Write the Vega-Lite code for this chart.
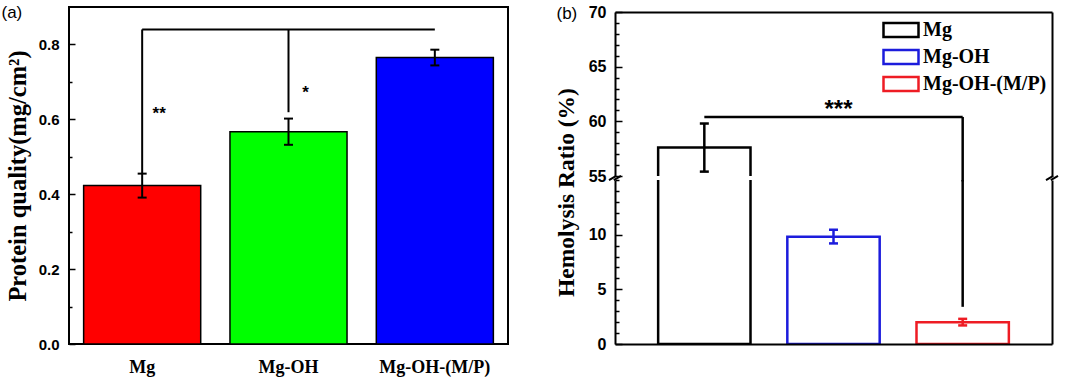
{
  "$schema": "https://vega.github.io/schema/vega-lite/v6.json",
  "background": "white",
  "padding": {"left": 0, "top": 2, "right": 0, "bottom": 0},
  "bounds": "flush",
  "spacing": 107,
  "config": {
    "view": {"stroke": null},
    "font": "Liberation Sans",
    "axis": {"labelColor": "black", "titleColor": "black", "tickColor": "black", "domainColor": "black", "grid": false}
  },
  "datasets": {
    "prot": [
      {"g": "Mg", "v": 0.423, "lo": 0.391, "hi": 0.455},
      {"g": "Mg-OH", "v": 0.567, "lo": 0.532, "hi": 0.602},
      {"g": "Mg-OH-(M/P)", "v": 0.765, "lo": 0.744, "hi": 0.786}
    ],
    "protBrV": [
      {"g": "Mg", "y1": 0.455, "y2": 0.84},
      {"g": "Mg-OH", "y1": 0.619, "y2": 0.84}
    ],
    "protBrH": [{"g1": "Mg", "g2": "Mg-OH-(M/P)", "y": 0.84}],
    "protStar": [
      {"g": "Mg", "y": 0.60, "t": "**"},
      {"g": "Mg-OH", "y": 0.658, "t": "*"}
    ],
    "hemo": [
      {"g": "Mg", "v": 57.6, "lo": 55.4, "hi": 59.8},
      {"g": "Mg-OH", "v": 9.8, "lo": 9.2, "hi": 10.45},
      {"g": "Mg-OH-(M/P)", "v": 2.0, "lo": 1.7, "hi": 2.3}
    ],
    "hemoBrH": [{"g1": "Mg", "g2": "Mg-OH-(M/P)", "y": 60.4}],
    "hemoBrVUp": [{"g": "Mg-OH-(M/P)", "y1": 54.5, "y2": 60.4}],
    "hemoBrVLow": [{"g": "Mg-OH-(M/P)", "y1": 3.4, "y2": 15}],
    "hemoStar": [{"g": "Mg-OH", "y": 60.4, "t": "***"}],
    "one": [{"k": 1}]
  },
  "resolve": {"scale": {"x": "independent", "y": "independent", "stroke": "independent", "color": "independent", "fill": "independent"}},
  "hconcat": [
    {
      "width": 439,
      "height": 337,
      "view": {"stroke": "black", "strokeWidth": 2},
      "layer": [
        {
          "data": {"name": "prot"},
          "mark": {"type": "bar", "stroke": "black", "strokeWidth": 1.5},
          "encoding": {
            "x": {"field": "g", "type": "nominal", "sort": null,
              "scale": {"domain": ["Mg", "Mg-OH", "Mg-OH-(M/P)"], "paddingInner": 0.2, "paddingOuter": 0.1},
              "axis": {"orient": "bottom", "ticks": false, "domain": false, "labelAngle": 0, "labelFont": "Liberation Serif", "labelFontWeight": "bold", "labelFontSize": 18, "labelPadding": 14,
                "title": "(a)", "titleX": -68, "titleY": -340, "titleAlign": "left", "titleBaseline": "top", "titleAngle": 0, "titleFont": "Liberation Sans", "titleFontWeight": "normal", "titleFontSize": 17}},
            "y": {"field": "v", "type": "quantitative",
              "scale": {"domain": [0, 0.9], "nice": false},
              "axis": {"values": [0, 0.1, 0.2, 0.3, 0.4, 0.5, 0.6, 0.7, 0.8], "format": ".1f",
                "labelExpr": "round(datum.value*10) % 2 === 0 ? datum.label : ''",
                "tickSize": {"condition": {"test": "round(datum.value*10) % 2 === 0", "value": -6}, "value": -3},
                "tickWidth": 1.5, "domain": false,
                "labelFont": "Liberation Sans", "labelFontWeight": "bold", "labelFontSize": 15, "labelPadding": 16,
                "title": "Protein quality(mg/cm²)", "titleFont": "Liberation Serif", "titleFontSize": 24.5, "titleFontWeight": "bold", "titlePadding": 8}},
            "fill": {"field": "g", "type": "nominal", "scale": {"domain": ["Mg", "Mg-OH", "Mg-OH-(M/P)"], "range": ["#ff0000", "#00ff00", "#0000ff"]}, "legend": null}
          }
        },
        {
          "data": {"name": "prot"},
          "mark": {"type": "rule", "color": "black", "strokeWidth": 2},
          "encoding": {
            "x": {"field": "g", "type": "nominal"},
            "y": {"field": "lo", "type": "quantitative"},
            "y2": {"field": "hi"}
          }
        },
        {
          "data": {"name": "prot"},
          "mark": {"type": "tick", "color": "black", "size": 9, "thickness": 2, "opacity": 1},
          "encoding": {
            "x": {"field": "g", "type": "nominal"},
            "y": {"field": "lo", "type": "quantitative"}
          }
        },
        {
          "data": {"name": "prot"},
          "mark": {"type": "tick", "color": "black", "size": 9, "thickness": 2, "opacity": 1},
          "encoding": {
            "x": {"field": "g", "type": "nominal"},
            "y": {"field": "hi", "type": "quantitative"}
          }
        },
        {
          "data": {"name": "protBrV"},
          "mark": {"type": "rule", "color": "black", "strokeWidth": 2},
          "encoding": {
            "x": {"field": "g", "type": "nominal"},
            "y": {"field": "y1", "type": "quantitative"},
            "y2": {"field": "y2"}
          }
        },
        {
          "data": {"name": "protBrH"},
          "mark": {"type": "rule", "color": "black", "strokeWidth": 2},
          "encoding": {
            "x": {"field": "g1", "type": "nominal"},
            "x2": {"field": "g2"},
            "y": {"field": "y", "type": "quantitative"}
          }
        },
        {
          "data": {"name": "protStar"},
          "mark": {"type": "text", "font": "Liberation Sans", "fontWeight": "bold", "fontSize": 17, "color": "black", "baseline": "alphabetic", "align": "center", "dx": 17},
          "encoding": {
            "x": {"field": "g", "type": "nominal"},
            "y": {"field": "y", "type": "quantitative"},
            "text": {"field": "t"}
          }
        }
      ]
    },
    {
      "bounds": "flush",
      "spacing": 4,
      "resolve": {"scale": {"x": "independent", "y": "independent", "stroke": "independent", "color": "independent"}, "legend": {"stroke": "independent", "color": "independent"}},
      "vconcat": [
        {
          "width": 437,
          "height": 1,
          "data": {"values": []},
          "mark": "point",
          "encoding": {}
        },
        {
          "width": 437,
          "height": 164,
          "resolve": {"axis": {"y": "independent"}},
          "layer": [
            {
              "data": {"name": "hemo"},
              "mark": {"type": "bar", "filled": false, "strokeWidth": 2.5, "clip": true},
              "encoding": {
                "x": {"field": "g", "type": "nominal",
                  "scale": {"domain": ["Mg", "Mg-OH", "Mg-OH-(M/P)"], "paddingInner": 0.285, "paddingOuter": 0.334},
                  "axis": {"orient": "top", "labels": false, "ticks": false, "domain": true, "domainWidth": 2, "zindex": 1,
                    "title": "(b)", "titleX": -59, "titleY": -7, "titleAlign": "left", "titleBaseline": "top", "titleAngle": 0, "titleFont": "Liberation Sans", "titleFontWeight": "normal", "titleFontSize": 17}},
                "y": {"field": "v", "type": "quantitative",
                  "scale": {"domain": [55, 70], "nice": false, "zero": false},
                  "axis": {"orient": "left", "values": [55, 56, 57, 58, 59, 60, 61, 62, 63, 64, 65, 66, 67, 68, 69, 70],
                    "labelExpr": "datum.value % 5 === 0 ? datum.label : ''",
                    "tickSize": {"condition": {"test": "datum.value % 5 === 0", "value": -7}, "value": -4},
                    "tickWidth": 1.5, "domain": true, "domainWidth": 2, "zindex": 1,
                    "labelFont": "Liberation Sans", "labelFontWeight": "bold", "labelFontSize": 16, "labelPadding": 16,
                    "title": null}},
                "color": {"field": "g", "type": "nominal",
                  "scale": {"domain": ["Mg", "Mg-OH", "Mg-OH-(M/P)"], "range": ["#000000", "#1c1cdc", "#ee1c24"]},
                  "legend": {"orient": "none", "legendX": 276, "legendY": 8, "title": null,
                    "symbolType": "M-2.5,-1H2.5V1H-2.5Z", "symbolSize": 196, "symbolStrokeWidth": 2.5, "symbolFillColor": "white",
                    "labelFont": "Liberation Serif", "labelFontSize": 20, "labelFontWeight": "bold", "labelColor": "black",
                    "labelOffset": 12, "rowPadding": 3, "padding": 0}}
              }
            },
            {
              "data": {"name": "hemo"},
              "mark": {"type": "rule", "strokeWidth": 2.5, "clip": true},
              "encoding": {
                "x": {"field": "g", "type": "nominal"},
                "y": {"field": "lo", "type": "quantitative",
                  "axis": {"orient": "right", "labels": false, "ticks": false, "domain": true, "domainWidth": 2, "title": null, "zindex": 1}},
                "y2": {"field": "hi"},
                "stroke": {"field": "g", "type": "nominal", "scale": {"domain": ["Mg", "Mg-OH", "Mg-OH-(M/P)"], "range": ["#000000", "#1c1cdc", "#ee1c24"]}, "legend": null}
              }
            },
            {
              "data": {"name": "hemo"},
              "mark": {"type": "rule", "strokeWidth": 2.5, "clip": true, "xOffset": -4.5, "x2Offset": 4.5},
              "encoding": {
                "x": {"field": "g", "type": "nominal"},
                "x2": {"field": "g"},
                "y": {"field": "lo", "type": "quantitative", "axis": null},
                "stroke": {"field": "g", "type": "nominal", "legend": null}
              }
            },
            {
              "data": {"name": "hemo"},
              "mark": {"type": "rule", "strokeWidth": 2.5, "clip": true, "xOffset": -4.5, "x2Offset": 4.5},
              "encoding": {
                "x": {"field": "g", "type": "nominal"},
                "x2": {"field": "g"},
                "y": {"field": "hi", "type": "quantitative", "axis": null},
                "stroke": {"field": "g", "type": "nominal", "legend": null}
              }
            },
            {
              "data": {"name": "hemoBrH"},
              "mark": {"type": "rule", "color": "black", "strokeWidth": 2.5},
              "encoding": {
                "x": {"field": "g1", "type": "nominal"},
                "x2": {"field": "g2"},
                "y": {"field": "y", "type": "quantitative", "axis": null}
              }
            },
            {
              "data": {"name": "hemoBrVUp"},
              "mark": {"type": "rule", "color": "black", "strokeWidth": 2.5},
              "encoding": {
                "x": {"field": "g", "type": "nominal"},
                "y": {"field": "y1", "type": "quantitative", "axis": null},
                "y2": {"field": "y2"}
              }
            },
            {
              "data": {"name": "hemoStar"},
              "mark": {"type": "text", "font": "Liberation Sans", "fontWeight": "bold", "fontSize": 24, "color": "black", "baseline": "alphabetic", "align": "center", "dx": 5},
              "encoding": {
                "x": {"field": "g", "type": "nominal"},
                "y": {"field": "y", "type": "quantitative", "axis": null},
                "text": {"field": "t"}
              }
            }
          ]
        },
        {
          "width": 437,
          "height": 164,
          "resolve": {"axis": {"y": "independent"}},
          "layer": [
            {
              "data": {"name": "hemo"},
              "mark": {"type": "bar", "filled": false, "strokeWidth": 2.5, "clip": true},
              "encoding": {
                "x": {"field": "g", "type": "nominal",
                  "scale": {"domain": ["Mg", "Mg-OH", "Mg-OH-(M/P)"], "paddingInner": 0.285, "paddingOuter": 0.334},
                  "axis": {"orient": "bottom", "title": null, "labels": false, "ticks": false, "domain": true, "domainWidth": 2, "zindex": 1}},
                "y": {"field": "v", "type": "quantitative",
                  "scale": {"domain": [0, 15], "nice": false},
                  "axis": {"orient": "left", "values": [0, 1, 2, 3, 4, 5, 6, 7, 8, 9, 10, 11, 12, 13, 14, 15],
                    "labelExpr": "datum.value % 5 === 0 && datum.value < 15 ? datum.label : ''",
                    "tickSize": {"condition": {"test": "datum.value % 5 === 0 && datum.value < 15", "value": -7}, "value": -4},
                    "tickWidth": 1.5, "domain": true, "domainWidth": 2, "zindex": 1,
                    "labelFont": "Liberation Sans", "labelFontWeight": "bold", "labelFontSize": 16, "labelPadding": 16,
                    "title": "Hemolysis Ratio (%)", "titleFont": "Liberation Serif", "titleFontSize": 23.5, "titleFontWeight": "bold", "titlePadding": 10, "titleY": 12}},
                "color": {"field": "g", "type": "nominal",
                  "scale": {"domain": ["Mg", "Mg-OH", "Mg-OH-(M/P)"], "range": ["#000000", "#1c1cdc", "#ee1c24"]},
                  "legend": null}
              }
            },
            {
              "data": {"name": "hemo"},
              "mark": {"type": "rule", "strokeWidth": 2.5, "clip": true},
              "encoding": {
                "x": {"field": "g", "type": "nominal"},
                "y": {"field": "lo", "type": "quantitative",
                  "axis": {"orient": "right", "labels": false, "ticks": false, "domain": true, "domainWidth": 2, "title": null, "zindex": 1}},
                "y2": {"field": "hi"},
                "stroke": {"field": "g", "type": "nominal", "scale": {"domain": ["Mg", "Mg-OH", "Mg-OH-(M/P)"], "range": ["#000000", "#1c1cdc", "#ee1c24"]}, "legend": null}
              }
            },
            {
              "data": {"name": "hemo"},
              "mark": {"type": "rule", "strokeWidth": 2.5, "clip": true, "xOffset": -4.5, "x2Offset": 4.5},
              "encoding": {
                "x": {"field": "g", "type": "nominal"},
                "x2": {"field": "g"},
                "y": {"field": "lo", "type": "quantitative", "axis": null},
                "stroke": {"field": "g", "type": "nominal", "legend": null}
              }
            },
            {
              "data": {"name": "hemo"},
              "mark": {"type": "rule", "strokeWidth": 2.5, "clip": true, "xOffset": -4.5, "x2Offset": 4.5},
              "encoding": {
                "x": {"field": "g", "type": "nominal"},
                "x2": {"field": "g"},
                "y": {"field": "hi", "type": "quantitative", "axis": null},
                "stroke": {"field": "g", "type": "nominal", "legend": null}
              }
            },
            {
              "data": {"name": "hemoBrVLow"},
              "mark": {"type": "rule", "color": "black", "strokeWidth": 2.5},
              "encoding": {
                "x": {"field": "g", "type": "nominal"},
                "y": {"field": "y1", "type": "quantitative", "axis": null},
                "y2": {"field": "y2"}
              }
            },
            {
              "data": {"name": "one"},
              "mark": {"type": "point", "shape": "M-1,0.35L0.2,-0.35M-0.2,0.35L1,-0.35", "size": 144, "filled": false, "stroke": "black", "strokeWidth": 2, "opacity": 1, "yOffset": -2},
              "encoding": {
                "x": {"value": 0},
                "y": {"datum": 15, "type": "quantitative", "axis": null}
              }
            },
            {
              "data": {"name": "one"},
              "mark": {"type": "point", "shape": "M-1,0.35L0.2,-0.35M-0.2,0.35L1,-0.35", "size": 144, "filled": false, "stroke": "black", "strokeWidth": 2, "opacity": 1, "yOffset": -2},
              "encoding": {
                "x": {"value": "width"},
                "y": {"datum": 15, "type": "quantitative", "axis": null}
              }
            }
          ]
        }
      ]
    }
  ]
}
